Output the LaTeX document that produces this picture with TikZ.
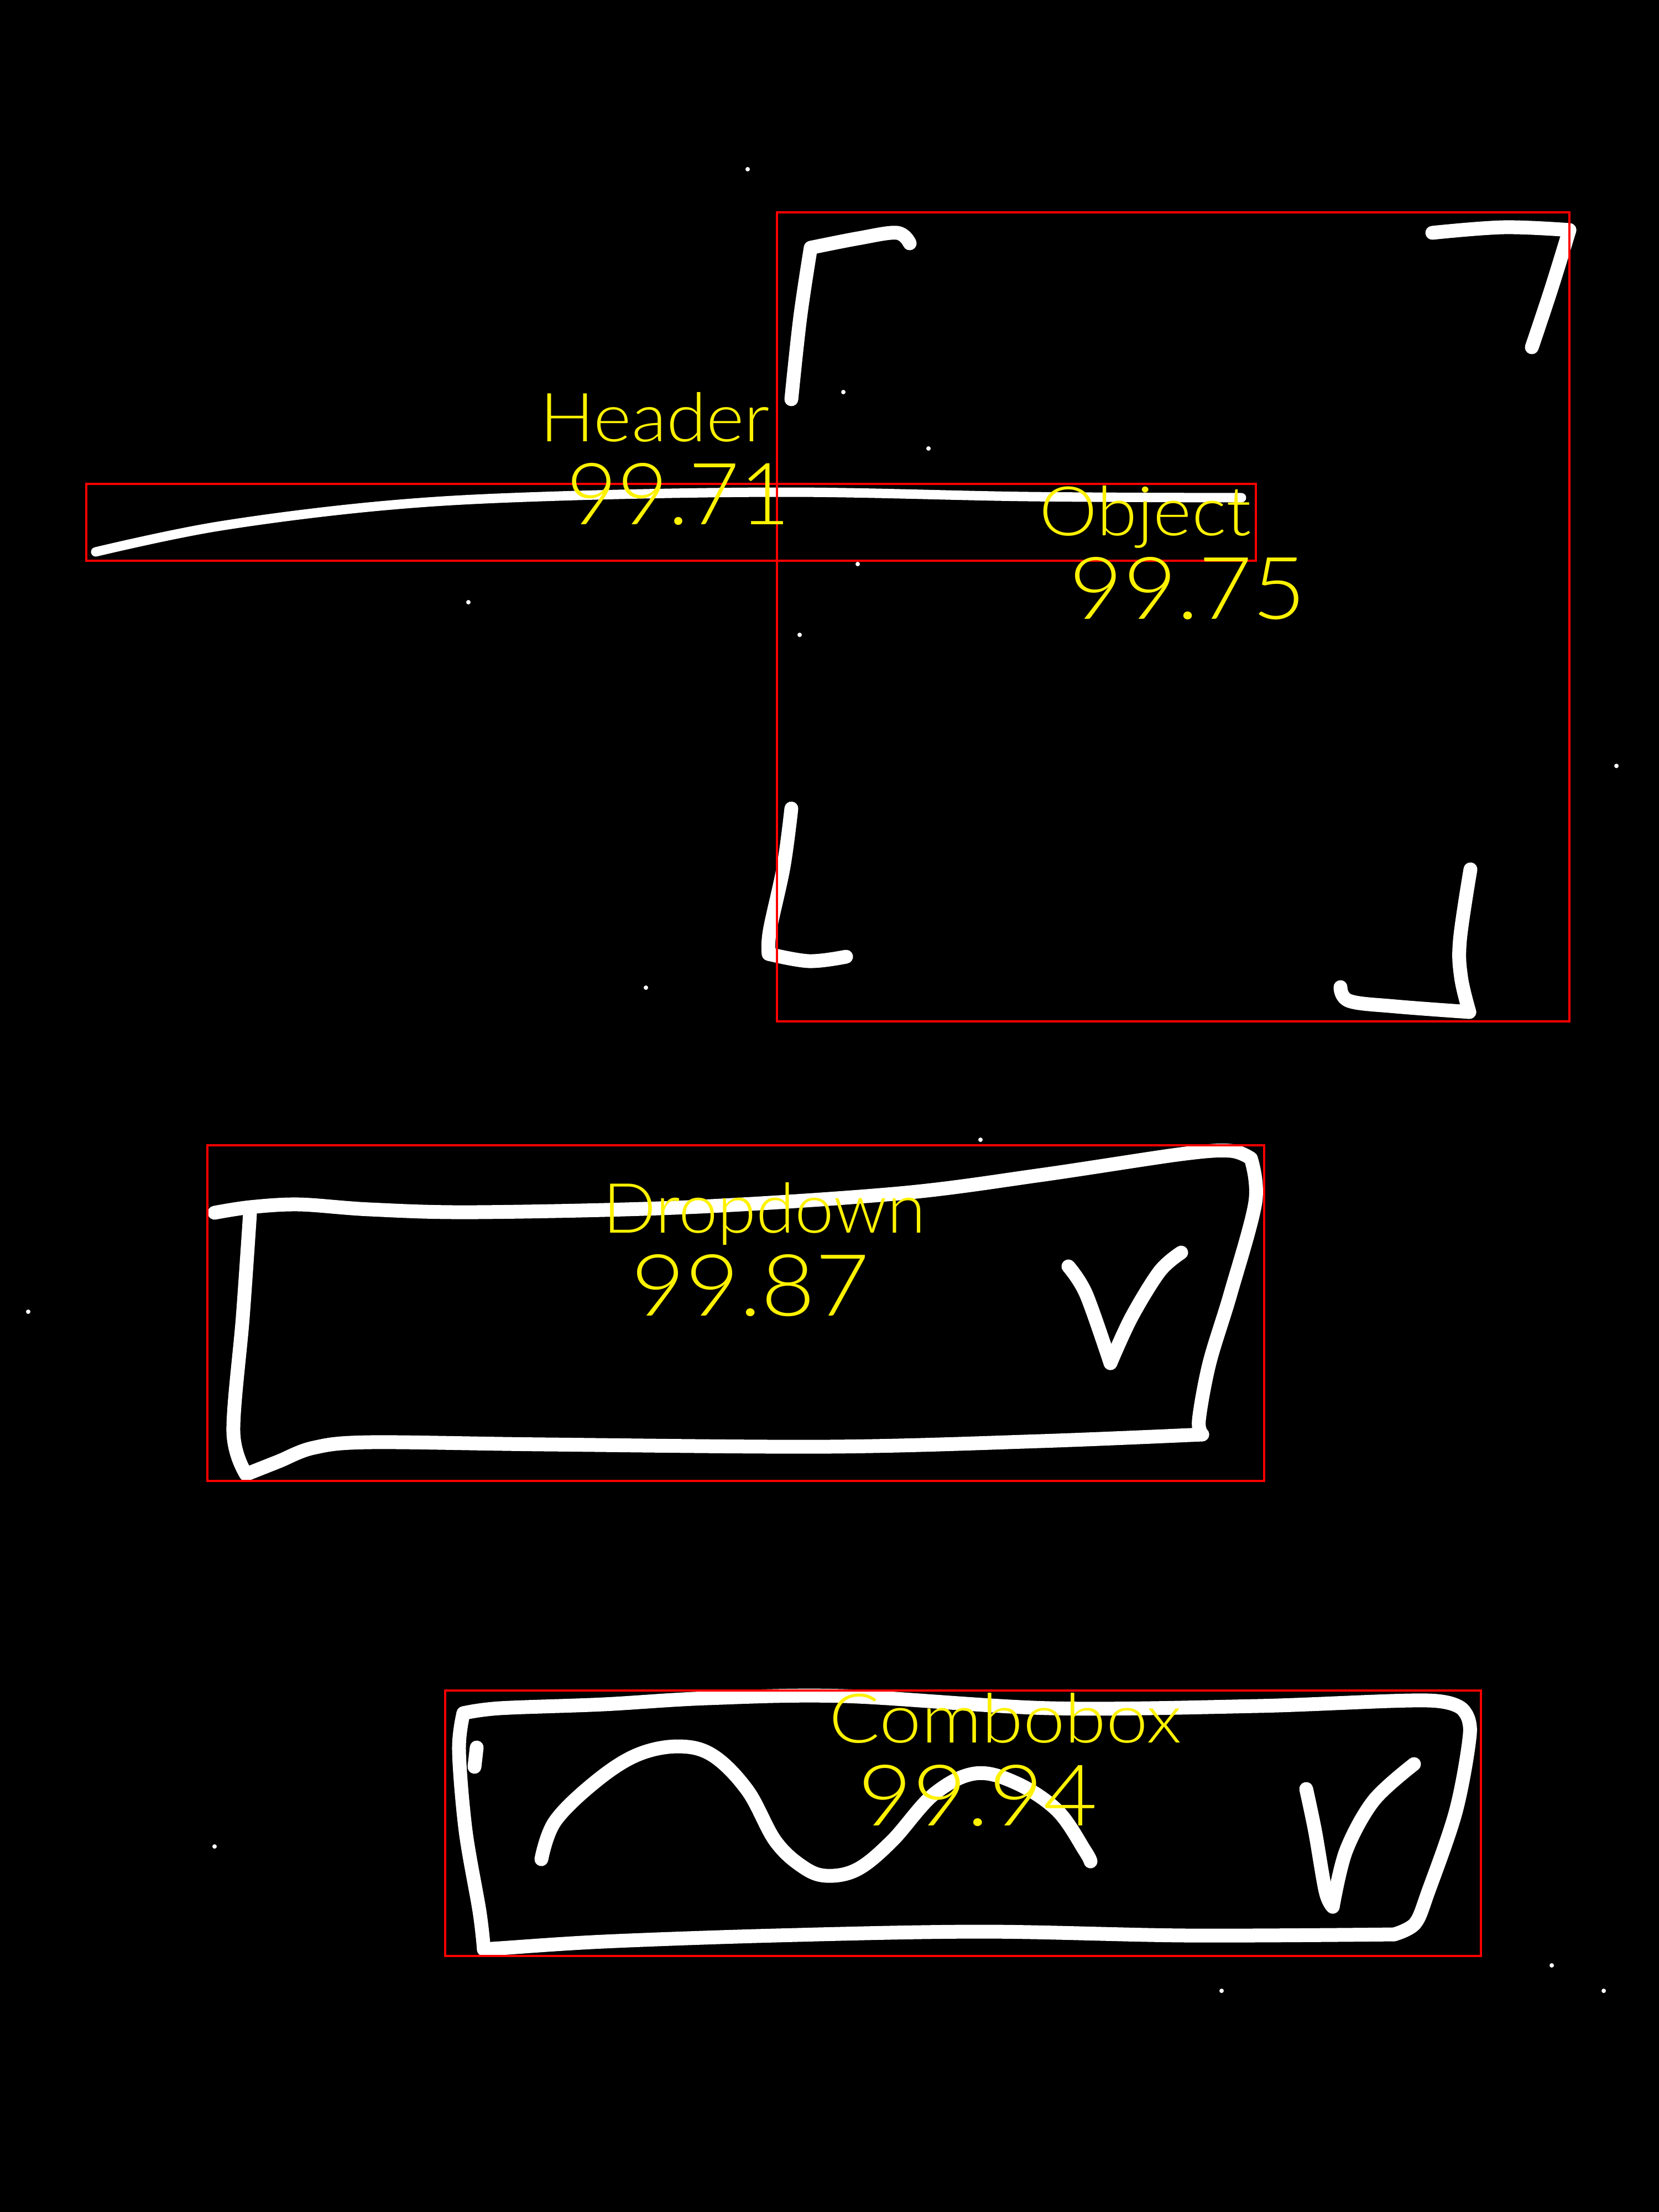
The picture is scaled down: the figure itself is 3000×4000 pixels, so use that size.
\documentclass[tikz,border=0pt]{standalone}
\usepackage{fontspec}
\IfFontExistsTF{Lato Light}{\setmainfont{Lato Light}}{\setmainfont{Liberation Sans}}
\begin{document}
\begin{tikzpicture}[x=0.01cm,y=-0.01cm]
\tikzset{
  ink/.style={draw=white, line width=0.25cm, line cap=round, line join=round},
  thinink/.style={ink, line width=0.17cm},
  bbox/.style={draw=red, line width=0.04cm},
  lbl/.style={anchor=base west, inner sep=0pt, text=yellow},
  speck/.style={fill=white, draw=none}
}
\fill[black] (0,0) rectangle (3000,4000);
\useasboundingbox (0,0) rectangle (3000,4000);

% ---- Object corner brackets ----
\draw[ink] plot[smooth, tension=0.6] coordinates {(1431,722) (1447,574) (1466,448)};
\draw[ink] plot[smooth, tension=0.6] coordinates {(1466,448) (1552,431) (1622,421) (1645,440)};
\draw[ink] plot[smooth, tension=0.6] coordinates {(2590,421) (2719,411) (2838,416)};
\draw[ink] plot[smooth, tension=0.6] coordinates {(2838,416) (2805,523) (2770,628)};
\draw[ink] plot[smooth, tension=0.6] coordinates {(1431,1462) (1417,1567) (1392,1683) (1390,1725)};
\draw[ink] plot[smooth, tension=0.6] coordinates {(1390,1725) (1463,1738) (1530,1730)};
\draw[ink] plot[smooth, tension=0.6] coordinates {(2659,1572) (2640,1700) (2642,1767) (2657,1830)};
\draw[ink] plot[smooth, tension=0.6] coordinates {(2424,1785) (2440,1810) (2524,1820) (2657,1830)};

% ---- Header line ----
\draw[thinink] plot[smooth, tension=0.6] coordinates {(173,998) (393,952) (687,915) (980,898) (1420,890) (1860,898) (2245,900)};

% ---- Dropdown ----
\draw[ink] plot[smooth, tension=0.55] coordinates {(388,2193) (452,2183) (541,2178) (669,2187) (860,2192) (1243,2183) (1626,2158) (1881,2125) (2136,2087) (2225,2081) (2262,2095)};
\draw[ink] plot[smooth, tension=0.55] coordinates {(2262,2095) (2270,2174) (2225,2340) (2187,2465) (2168,2568) (2174,2594)};
\draw[ink] plot[smooth, tension=0.55] coordinates {(2174,2594) (1881,2606) (1498,2616) (988,2612) (669,2608) (567,2618) (503,2643) (445,2666)};
\draw[ink] plot[smooth, tension=0.55] coordinates {(445,2666) (422,2589) (439,2382) (452,2195)};
\draw[ink] plot[smooth, tension=0.55] coordinates {(1932,2290) (1964,2340) (2008,2465)};
\draw[ink] plot[smooth, tension=0.55] coordinates {(2008,2465) (2046,2382) (2097,2299) (2136,2265)};

% ---- Combobox ----
\draw[ink] plot[smooth, tension=0.55] coordinates {(838,3098) (904,3089) (1091,3082) (1278,3071) (1526,3067) (1899,3089) (2273,3085) (2583,3075) (2648,3095)};
\draw[ink] plot[smooth, tension=0.55] coordinates {(2648,3095) (2658,3135) (2633,3274) (2583,3420) (2559,3478) (2521,3498)};
\draw[ink] plot[smooth, tension=0.55] coordinates {(2521,3498) (2148,3500) (1775,3493) (1402,3500) (1091,3511) (904,3523) (875,3525)};
\draw[ink] plot[smooth, tension=0.55] coordinates {(875,3525) (867,3456) (842,3311) (830,3165) (838,3098)};
\draw[ink] (862,3160) -- (858,3195);
\draw[ink] plot[smooth, tension=0.6] coordinates {(979,3362) (1004,3293) (1079,3220) (1153,3173) (1228,3158) (1290,3175) (1352,3238) (1402,3329) (1452,3376) (1495,3392) (1551,3380) (1613,3329) (1688,3245) (1763,3207) (1837,3224) (1912,3274) (1962,3347) (1972,3366)};
\draw[ink] plot[smooth, tension=0.55] coordinates {(2362,3235) (2378,3311) (2397,3420) (2410,3448)};
\draw[ink] plot[smooth, tension=0.55] coordinates {(2410,3448) (2434,3347) (2484,3256) (2557,3190)};

% ---- specks ----
\foreach \p in {(1352,306),(1525,709),(1679,811),(847,1089),(1551,1020),(1446,1148),(51,2372),(388,3339),(1773,2061),(2923,1385),(2806,3554),(2209,3600),(2900,3600),(1168,1786)}
  \fill[speck] \p circle (4);

% ---- detection boxes ----
\draw[bbox] (1405,384) rectangle (2838,1847);
\draw[bbox] (156,875) rectangle (2271,1014);
\draw[bbox] (375,2071) rectangle (2286,2678);
\draw[bbox] (805,3057) rectangle (2678,3537);

% ---- labels ----
\node[lbl] (hdr) at (976,798) {\resizebox{4.15cm}{0.89cm}{Header}};
\node[lbl] (hdrs) at (1024,948) {\resizebox{4.04cm}{1.11cm}{99.71}};
\node[lbl] (obj) at (1879,968) {\resizebox{3.83cm}{0.90cm}{Object}};
\node[lbl] (objs) at (1933,1119) {\resizebox{4.28cm}{1.12cm}{99.75}};
\node[lbl] (dd) at (1090,2229) {\resizebox{5.83cm}{0.91cm}{Dropdown}};
\node[lbl] (dds) at (1141,2379) {\resizebox{4.30cm}{1.11cm}{99.87}};
\node[lbl] (cb) at (1499,3151) {\resizebox{6.37cm}{0.90cm}{Combobox}};
\node[lbl] (cbs) at (1551,3301) {\resizebox{4.33cm}{1.10cm}{99.94}};
\end{tikzpicture}
\end{document}
